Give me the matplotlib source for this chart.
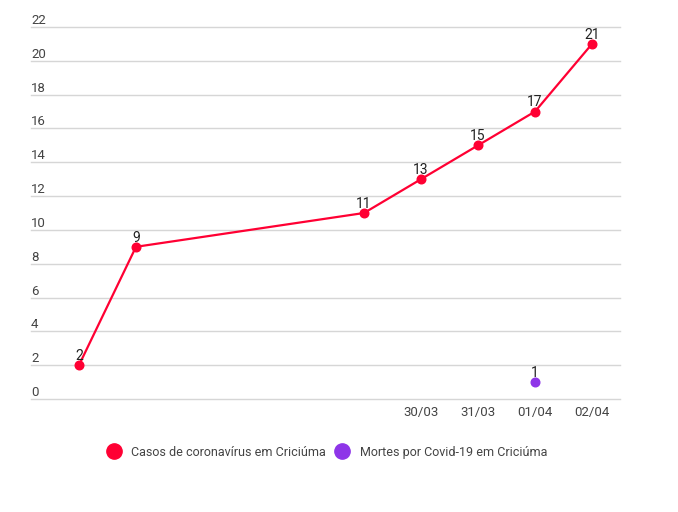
import numpy as np
import matplotlib.pyplot as plt
from matplotlib.lines import Line2D

plt.rcParams['font.family'] = ['Roboto', 'DejaVu Sans']

# dias a partir de 24/03
dias = ['24/03', '25/03', '26/03', '27/03', '28/03', '29/03',
        '30/03', '31/03', '01/04', '02/04']
casos_idx = [0, 1, 5, 6, 7, 8, 9]
casos = [2, 9, 11, 13, 15, 17, 21]
mortes_idx = [8]
mortes = [1]
rotulos_x = ['30/03', '31/03', '01/04', '02/04']

vermelho = '#ff0033'
roxo = '#8e35e8'
cinza = '#444444'

fig = plt.figure(figsize=(6.78, 5.12), dpi=100)
ax = fig.add_axes([0.0457, 0.2207, 0.8687, 0.7266])

ax.plot(casos_idx, casos, color=vermelho, lw=1.6, marker='o', ms=6.2,
        zorder=3, clip_on=False)
ax.plot(mortes_idx, mortes, ls='none', color=roxo, marker='o', ms=6.2,
        zorder=3, clip_on=False)

for x, y in zip(casos_idx + mortes_idx, casos + mortes):
    ax.annotate(str(y), (x, y), xytext=(0, 1.5), textcoords='offset points',
                ha='center', va='bottom', fontsize=10, color='#222222')

ax.set_xlim(-0.842, 9.49)
ax.set_ylim(0, 22)

ax.set_xticks([dias.index(d) for d in rotulos_x])
ax.set_xticklabels(rotulos_x)
ax.set_yticks(np.arange(0, 23, 2))
ax.set_yticklabels([])
for v in np.arange(0, 23, 2):
    ax.text(0, v, str(v), transform=ax.get_yaxis_transform(),
            ha='left', va='bottom', fontsize=9.5, color=cinza)
    ax.axhline(v, color='#d6d6d6', lw=1, zorder=0, clip_on=False)

ax.tick_params(axis='both', length=0, labelsize=9.5, labelcolor=cinza)
ax.tick_params(axis='x', pad=5)
for s in ax.spines.values():
    s.set_visible(False)

handles = [
    Line2D([], [], ls='none', marker='o', ms=11, color=vermelho),
    Line2D([], [], ls='none', marker='o', ms=11, color=roxo),
]
fig.legend(handles, ['Casos de coronavírus em Criciúma',
                     'Mortes por Covid-19 em Criciúma'],
           loc='center', bbox_to_anchor=(0.478, 0.117), ncol=2,
           frameon=False, fontsize=9, labelcolor=cinza,
           handletextpad=0.4, columnspacing=0.3, handlelength=2.0)

fig.savefig('out.png', dpi=100, facecolor='white')
